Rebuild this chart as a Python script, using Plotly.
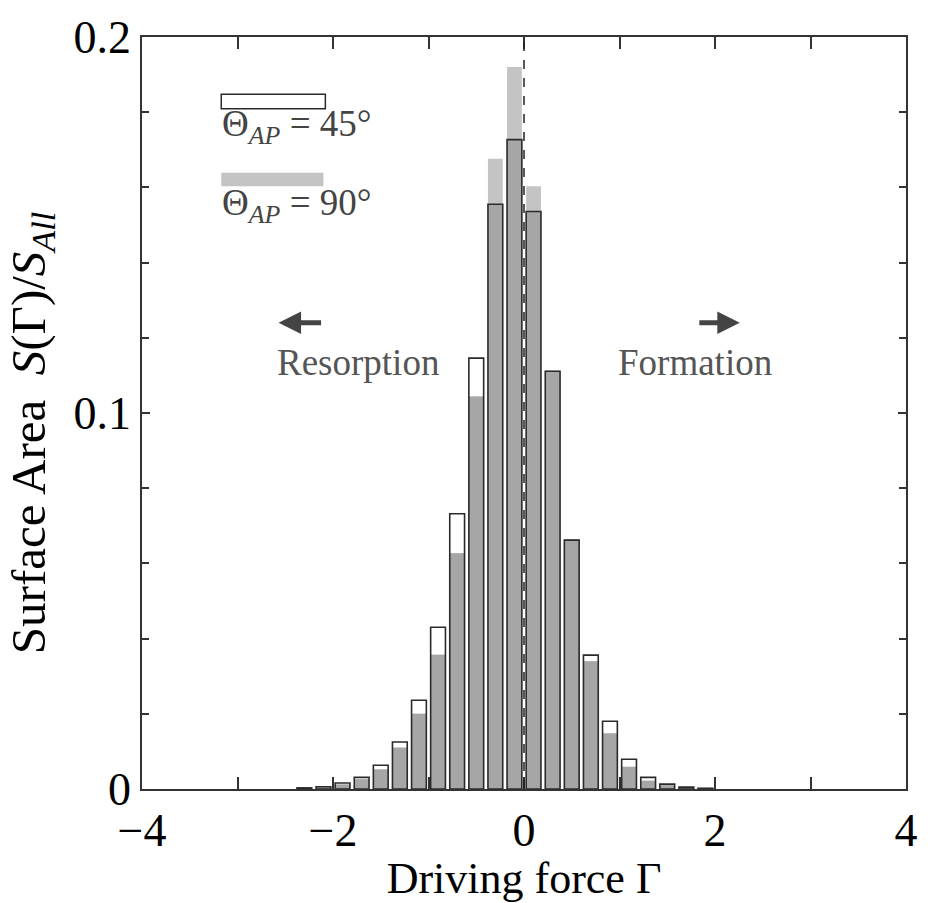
import numpy as np
import plotly.graph_objects as go

# Bin centres of the driving force Gamma
gamma = [-2.3, -2.1, -1.9, -1.7, -1.5, -1.3, -1.1, -0.9, -0.7, -0.5, -0.3, -0.1,
         0.1, 0.3, 0.5, 0.7, 0.9, 1.1, 1.3, 1.5, 1.7, 1.9]
# Surface area fraction, Theta_AP = 45 deg
s45 = [0.0003, 0.0006, 0.0016, 0.0031, 0.0063, 0.0125, 0.0236, 0.0430, 0.0732, 0.1146, 0.1555, 0.1727,
       0.1536, 0.1111, 0.0662, 0.0356, 0.0180, 0.0079, 0.0031, 0.0013, 0.0005, 0.0002]
# Surface area fraction, Theta_AP = 90 deg
s90 = [0.0002, 0.0005, 0.0012, 0.0026, 0.0052, 0.0110, 0.0200, 0.0357, 0.0627, 0.1044, 0.1676, 0.1920,
       0.1603, 0.1113, 0.0664, 0.0340, 0.0148, 0.0059, 0.0022, 0.0010, 0.0004, 0.0001]

x_tickvals = [-4, -2, 0, 2, 4]
x_ticktext = ["\u22124", "\u22122", "0", "2", "4"]
y_tickvals = [0, 0.1, 0.2]
y_ticktext = ["0", "0.1", "0.2"]

overlap = np.minimum(np.array(s45), np.array(s90))

FONT = "Liberation Serif"
BARW = 0.155

fig = go.Figure()
fig.add_trace(go.Bar(x=gamma, y=s90, width=BARW, marker=dict(color="#c4c4c4", line=dict(width=0)),
                     name="90", showlegend=False))
fig.add_trace(go.Bar(x=gamma, y=overlap, width=BARW, marker=dict(color="#a6a6a6", line=dict(width=0)),
                     name="overlap", showlegend=False))
fig.add_trace(go.Bar(x=gamma, y=s45, width=BARW,
                     marker=dict(color="rgba(0,0,0,0)", line=dict(color="#2a2a2a", width=1.6)),
                     name="45", showlegend=False))

fig.update_layout(
    width=930, height=903,
    margin=dict(l=142, r=17, t=35, b=103),
    barmode="overlay",
    plot_bgcolor="white", paper_bgcolor="white",
    font=dict(family=FONT, color="black"),
    xaxis=dict(range=[-4, 4], tickvals=x_tickvals, ticktext=x_ticktext,
               ticks="inside", ticklen=12, tickwidth=1.5, tickcolor="#333",
               minor=dict(dtick=1, tick0=0, ticks="inside", ticklen=12, tickwidth=1.5, tickcolor="#333"),
               showline=True, linecolor="#333", linewidth=1.5, mirror="allticks",
               showgrid=False, zeroline=False,
               tickfont=dict(family=FONT, size=46, color="black"),
               title=dict(text="Driving force \u0393", font=dict(family=FONT, size=44, color="black"),
                          standoff=4)),
    yaxis=dict(range=[0, 0.2], tickvals=y_tickvals, ticktext=y_ticktext,
               ticks="inside", ticklen=8, tickwidth=1.5, tickcolor="#333",
               minor=dict(dtick=0.02, tick0=0, ticks="inside", ticklen=7, tickwidth=1.5, tickcolor="#333"),
               showline=True, linecolor="#333", linewidth=1.5, mirror="allticks",
               showgrid=False, zeroline=False,
               tickfont=dict(family=FONT, size=46, color="black")),
)

# y-axis title
fig.add_annotation(x=-0.1455, y=0.473, xref="paper", yref="paper", xanchor="center", yanchor="middle",
                   textangle=-90, showarrow=False,
                   text="Surface Area  <i>S</i>(\u0393)/<i>S</i><sub><i>All</i></sub>",
                   font=dict(family=FONT, size=49, color="black"))

# dashed line at Gamma = 0
fig.add_shape(type="line", x0=0, x1=0, y0=0, y1=0.2, xref="x", yref="y",
              line=dict(color="#222", width=1.5, dash="dash"), layer="above")

# in-plot legend
fig.add_shape(type="rect", x0=-3.17, x1=-2.08, y0=0.1809, y1=0.1848, xref="x", yref="y",
              line=dict(color="#2a2a2a", width=1.5), fillcolor="white", layer="above")
fig.add_shape(type="rect", x0=-3.17, x1=-2.10, y0=0.1603, y1=0.1639, xref="x", yref="y",
              line=dict(width=0), fillcolor="#c4c4c4", layer="above")
fig.add_annotation(x=-3.18, y=0.1762, xref="x", yref="y", xanchor="left", yanchor="middle",
                   text="\u0398<sub><i>AP</i></sub> = 45\u00b0", showarrow=False,
                   font=dict(family=FONT, size=37, color="#444"))
fig.add_annotation(x=-3.18, y=0.1553, xref="x", yref="y", xanchor="left", yanchor="middle",
                   text="\u0398<sub><i>AP</i></sub> = 90\u00b0", showarrow=False,
                   font=dict(family=FONT, size=37, color="#444"))

# direction labels and arrows
fig.add_annotation(x=-1.74, y=0.1135, xref="x", yref="y", text="Resorption", showarrow=False,
                   font=dict(family=FONT, size=37, color="#555"))
fig.add_annotation(x=1.79, y=0.1135, xref="x", yref="y", text="Formation", showarrow=False,
                   font=dict(family=FONT, size=37, color="#555"))
fig.add_annotation(x=-2.57, y=0.124, xref="x", yref="y", ax=44, ay=0, axref="pixel", ayref="pixel",
                   text="", showarrow=True, arrowhead=2, arrowsize=0.9, arrowwidth=5, arrowcolor="#444")
fig.add_annotation(x=2.26, y=0.124, xref="x", yref="y", ax=-42, ay=0, axref="pixel", ayref="pixel",
                   text="", showarrow=True, arrowhead=2, arrowsize=0.9, arrowwidth=5, arrowcolor="#444")

fig.write_html("out.html")
